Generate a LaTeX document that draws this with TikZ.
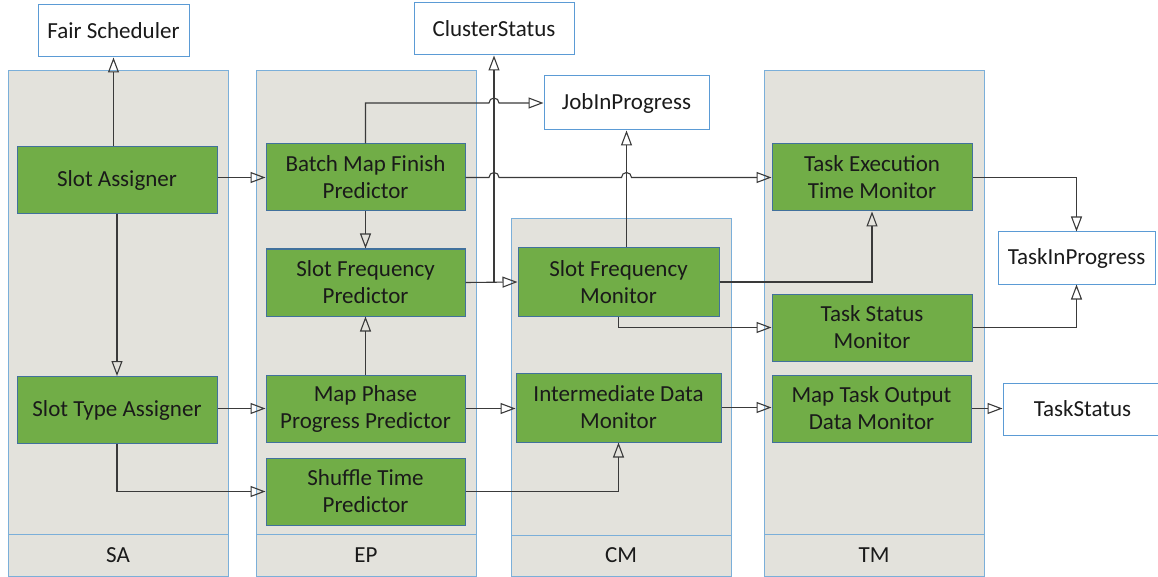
\documentclass[tikz,border=0pt]{standalone}
\usepackage{fontspec}
\setmainfont{Carlito}
\usepackage{tikz}
\usetikzlibrary{calc,arrows.meta}
\definecolor{ink}{HTML}{1A1A1A}
\definecolor{wire}{HTML}{3A3A3A}
\definecolor{lanefill}{HTML}{E3E2DC}
\definecolor{laneline}{HTML}{7BAFD9}
\definecolor{leaf}{HTML}{71AD47}
\definecolor{leafline}{HTML}{41719C}
\definecolor{extline}{HTML}{5B9BD5}
\tikzset{
  lane/.style={draw=laneline, fill=lanefill, line width=1pt, minimum width=220pt, inner sep=0pt},
  lanelab/.style={lane, minimum height=42pt, text=ink, font=\fontsize{23}{27}\selectfont},
  unit/.style={draw=leafline, fill=leaf, line width=1pt, minimum width=200pt, minimum height=67pt,
    align=center, text=ink, inner sep=0pt, font=\fontsize{23}{27}\selectfont},
  ext/.style={draw=extline, fill=white, line width=1pt, minimum height=52pt,
    text=ink, inner sep=0pt, font=\fontsize{23}{27}\selectfont},
  conn/.style={draw=wire, line width=1.1pt, -{Triangle[open, length=15pt, width=11pt]}},
}
\begin{document}
\begin{tikzpicture}[x=1pt, y=-1pt]
  \useasboundingbox (0,0) rectangle (1158,577);
  % lanes
  \foreach \n/\x in {SA/118, EP/366, TM/874} {
    \node[lane, minimum height=463pt] (lane\n) at (\x,302.5) {};
    \node[lanelab] (lab\n) at (\x,555) {\n};
  }
  \node[lane, minimum height=316pt] (laneCM) at (621,377) {};
  \node[lanelab, minimum height=41pt] (labCM) at (621,555.5) {CM};

  % outside components
  \node[ext, minimum width=151pt] (fs) at (113.5,31) {Fair Scheduler};
  \node[ext, minimum width=160pt] (cs) at (494,29) {ClusterStatus};
  \node[ext, minimum width=165pt, minimum height=54pt] (jip) at (626.5,103) {JobInProgress};
  \node[ext, minimum width=157pt] (tip) at (1076.5,258) {TaskInProgress};
  \node[ext, minimum width=159pt] (ts) at (1082.5,409) {TaskStatus};

  % SA
  \node[unit] (sa) at (117,180) {Slot Assigner};
  \node[unit] (sta) at (117,410) {Slot Type Assigner};
  % EP
  \node[unit, minimum width=199pt] (bmf) at (365.5,177.5) {Batch Map Finish\\Predictor};
  \node[unit, minimum width=199pt] (sfp) at (365.5,282.5) {Slot Frequency\\Predictor};
  \node[unit, minimum width=199pt] (mpp) at (365.5,408.5) {Map Phase\\Progress Predictor};
  \node[unit, minimum width=199pt] (stp) at (365.5,491.5) {Shuffle Time\\Predictor};
  % CM
  \node[unit, minimum width=201pt, minimum height=68pt] (sfm) at (618.5,282) {Slot Frequency\\Monitor};
  \node[unit, minimum width=205pt, minimum height=69pt] (idm) at (618.5,407.5) {Intermediate Data\\Monitor};
  % TM
  \node[unit] (tet) at (872,177.5) {Task Execution\\Time Monitor};
  \node[unit] (tsm) at (872,327.5) {Task Status\\Monitor};
  \node[unit, minimum width=199pt] (mto) at (871.5,408.5) {Map Task Output\\Data Monitor};

  \coordinate (br) at (cs.south |- sfp.east);

  % connectors
  \draw[conn] (sa.north -| fs.south) -- (fs.south);
  \draw[conn] (bmf.west -| sa.east) -- (bmf.west);
  \draw[conn] (sa.south) -- (sta.north);
  \draw[conn] (bmf.south) -- (sfp.north);
  \draw[conn] (sfp.east) -- (sfm.west);
  \draw[conn] (br) -- (cs.south);
  \draw[conn] (sfm.north -| jip.south) -- (jip.south);
  \draw[conn] (bmf.north) |- ([xshift=-5pt]br |- jip.west)
    arc[start angle=180, end angle=0, radius=5pt] -- (jip.west);
  \draw[conn] (bmf.east) -- ([xshift=-5pt]br |- bmf.east)
    arc[start angle=180, end angle=0, radius=5pt]
    -- ([xshift=-5pt]jip.south |- bmf.east)
    arc[start angle=180, end angle=0, radius=5pt] -- (tet.west);
  \draw[conn] (sfm.east) -| (tet.south);
  \draw[conn] (sfm.south) |- (tsm.west);
  \draw[conn] (tet.east) -| (tip.north);
  \draw[conn] (tsm.east) -| (tip.south);
  \draw[conn] (mpp.west -| sta.east) -- (mpp.west);
  \draw[conn] (sta.south) |- (stp.west);
  \draw[conn] (mpp.north) -- (sfp.south);
  \draw[conn] (mpp.east) -- (mpp.east -| idm.west);
  \draw[conn] (stp.east) -| (idm.south);
  \draw[conn] (idm.east) -- (idm.east -| mto.west);
  \draw[conn] (mto.east) -- (mto.east -| ts.west);
\end{tikzpicture}
\end{document}
